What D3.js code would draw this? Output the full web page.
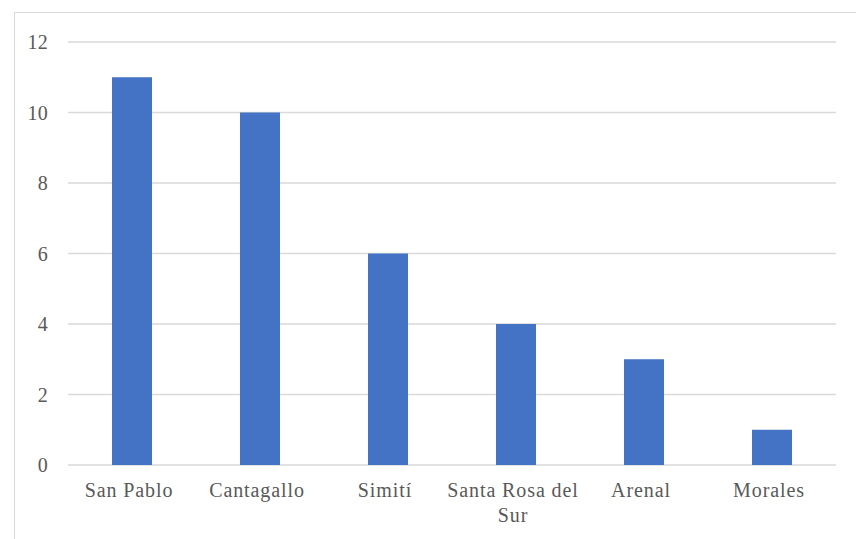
<!DOCTYPE html>
<html><head><meta charset="utf-8">
<script src="https://cdn.jsdelivr.net/npm/d3@7/dist/d3.min.js"></script>
<style>body{margin:0;background:#fff;} svg{display:block;}</style>
</head><body><svg id="c" width="856" height="539"></svg>
<script>
const categories = ["San Pablo", "Cantagallo", "Simití", "Santa Rosa del Sur", "Arenal", "Morales"];
const values = [11, 10, 6, 4, 3, 1];
const yTicks = [0, 2, 4, 6, 8, 10, 12];

const svg = d3.select("#c");
svg.append("rect").attr("x", 14.5).attr("y", 12.5).attr("width", 900).attr("height", 600)
  .attr("fill", "#fff").attr("stroke", "#d9d9d9").attr("stroke-width", 1);

const m = {left: 68, right: 836, top: 42, bottom: 465};
const x = d3.scaleBand().domain(categories).range([m.left, m.right]).paddingInner(0.6875).paddingOuter(0.34375);
const y = d3.scaleLinear().domain([0, 12]).range([m.bottom, m.top]);

const font = "Liberation Serif";

svg.append("g").selectAll("line").data(yTicks).join("line")
  .attr("x1", m.left).attr("x2", m.right)
  .attr("y1", d => y(d)).attr("y2", d => y(d))
  .attr("stroke", "#d9d9d9").attr("stroke-width", 1.5);

svg.append("g").selectAll("text").data(yTicks).join("text")
  .attr("x", 48).attr("y", d => y(d) + 7)
  .attr("text-anchor", "end").attr("font-family", font).attr("font-size", 20)
  .attr("letter-spacing", 0.3)
  .attr("fill", "#595959").text(d => d);

svg.append("g").selectAll("rect").data(values).join("rect")
  .attr("x", (d, i) => x(categories[i])).attr("width", x.bandwidth())
  .attr("y", d => y(d)).attr("height", d => y(0) - y(d))
  .attr("fill", "#4472c4");

const wrapped = {"Santa Rosa del Sur": ["Santa Rosa del", "Sur"]};
const lx = d => x(d) + x.bandwidth() / 2 - 3;
const labels = svg.append("g").selectAll("text").data(categories).join("text")
  .attr("x", lx).attr("y", 497)
  .attr("text-anchor", "middle").attr("font-family", font).attr("font-size", 20)
  .attr("letter-spacing", 0.9)
  .attr("fill", "#595959");
labels.each(function(d) {
  const lines = wrapped[d] || [d];
  const t = d3.select(this);
  lines.forEach((l, i) => t.append("tspan").attr("x", lx(d)).attr("dy", i ? 25 : 0).text(l));
});
</script></body></html>
